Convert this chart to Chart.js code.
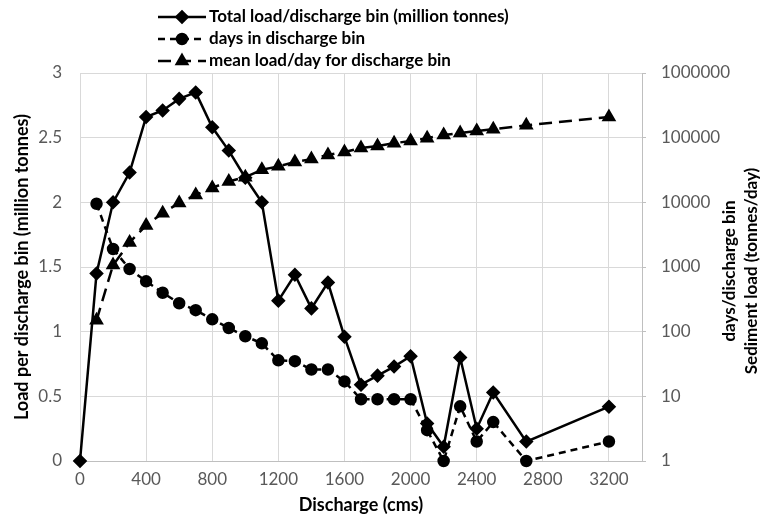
<!DOCTYPE html>
<html>
<head>
<meta charset="utf-8">
<script src="https://cdn.jsdelivr.net/npm/chart.js@4"></script>
<style>
  html, body { margin: 0; padding: 0; background: #fff; }
  #wrap { width: 762px; height: 527px; }
</style>
</head>
<body>
<div id="wrap"><canvas id="sedimentChart"></canvas></div>
<script>
// Discharge bins (cms) and per-bin values
const discharge = [0, 100, 200, 300, 400, 500, 600, 700, 800, 900, 1000, 1100, 1200, 1300,
  1400, 1500, 1600, 1700, 1800, 1900, 2000, 2100, 2200, 2300, 2400, 2500, 2700, 3200];
const totalLoad = [0, 1.45, 2.0, 2.23, 2.66, 2.71, 2.80, 2.85, 2.58, 2.40, 2.19, 2.0, 1.24, 1.44,
  1.18, 1.38, 0.96, 0.59, 0.66, 0.73, 0.81, 0.29, 0.11, 0.80, 0.25, 0.53, 0.15, 0.42];
const daysInBin = [null, 9500, 1900, 930, 600, 400, 275, 215, 155, 114, 85, 66, 36, 35,
  26, 26, 17, 9, 9, 9, 9, 3, 1, 7, 2, 4, 1, 2];
const meanLoadPerDay = [null, 150, 1070, 2400, 4400, 6800, 9800, 13000, 16700, 21000, 24500, 32000, 36000, 42000,
  46600, 54000, 60000, 69000, 74000, 82000, 89000, 98000, 110000, 118000, 127000, 135000, 155000, 208000];

const seriesLabels = [
  'Total load/discharge bin (million tonnes)',
  'days in discharge bin',
  'mean load/day for discharge bin'
];
const xTicks = [0, 400, 800, 1200, 1600, 2000, 2400, 2800, 3200];
const leftTicks = [0, 0.5, 1, 1.5, 2, 2.5, 3];
const rightTicks = [1, 10, 100, 1000, 10000, 100000, 1000000];

const FONT = 'Lato, "Open Sans", sans-serif';
const INK = '#000000';
const TICK_INK = '#595959';

function points(values) {
  return discharge.map((x, i) => ({ x: x, y: values[i] }));
}

function fixedTicks(values) {
  return s => { s.ticks = values.map(v => ({ value: v })); };
}

// legend stacked in three rows above the plot
const stackedLegend = {
  id: 'stackedLegend',
  afterDraw(chart) {
    const ctx = chart.ctx;
    chart.data.datasets.forEach((ds, i) => {
      const y = 17 + i * 22;
      ctx.save();
      ctx.strokeStyle = ds.borderColor;
      ctx.lineWidth = ds.borderWidth;
      ctx.setLineDash(ds.borderDash || []);
      ctx.beginPath();
      ctx.moveTo(158, y);
      ctx.lineTo(206, y);
      ctx.stroke();
      ctx.setLineDash([]);
      ctx.fillStyle = ds.pointBackgroundColor;
      ctx.strokeStyle = ds.pointBorderColor;
      Chart.helpers.drawPoint(ctx, { pointStyle: ds.pointStyle, radius: ds.pointRadius, borderWidth: 1 }, 182, y);
      ctx.fillStyle = INK;
      ctx.font = 'bold 17px ' + FONT;
      ctx.textAlign = 'left';
      ctx.textBaseline = 'middle';
      ctx.fillText(ds.label, 209, y);
      ctx.restore();
    });
  }
};

// two-line title for the log axis, reading bottom to top
const rightTitle = {
  id: 'rightTitle',
  afterDraw(chart) {
    const ctx = chart.ctx;
    const cy = 271;
    const lines = ['days/discharge bin', 'Sediment load (tonnes/day)'];
    ctx.save();
    ctx.fillStyle = INK;
    ctx.font = 'bold 17px ' + FONT;
    ctx.textAlign = 'center';
    ctx.textBaseline = 'middle';
    lines.forEach((t, i) => {
      ctx.save();
      ctx.translate(730 + i * 22, cy);
      ctx.rotate(-Math.PI / 2);
      ctx.fillText(t, 0, 0);
      ctx.restore();
    });
    ctx.restore();
  }
};

const ctx = document.getElementById('sedimentChart').getContext('2d');
new Chart(ctx, {
  type: 'line',
  data: {
    datasets: [
      {
        label: seriesLabels[0],
        data: points(totalLoad),
        yAxisID: 'y',
        borderColor: '#000',
        borderWidth: 2.5,
        pointStyle: 'rectRot',
        pointRadius: 5.5,
        pointBackgroundColor: '#000',
        pointBorderColor: '#000',
        clip: false,
        tension: 0
      },
      {
        label: seriesLabels[1],
        data: points(daysInBin),
        yAxisID: 'y2',
        borderColor: '#000',
        borderWidth: 2.5,
        borderDash: [7, 5],
        pointStyle: 'circle',
        pointRadius: 5,
        pointBackgroundColor: '#000',
        pointBorderColor: '#000',
        clip: false,
        tension: 0
      },
      {
        label: seriesLabels[2],
        data: points(meanLoadPerDay),
        yAxisID: 'y2',
        borderColor: '#000',
        borderWidth: 2.5,
        borderDash: [13, 7],
        pointStyle: 'triangle',
        pointRadius: 6,
        pointBackgroundColor: '#000',
        pointBorderColor: '#000',
        clip: false,
        tension: 0
      }
    ]
  },
  options: {
    responsive: true,
    maintainAspectRatio: false,
    animation: false,
    layout: { padding: { top: 73, left: 0, right: 0, bottom: 0 } },
    plugins: {
      legend: { display: false },
      tooltip: { enabled: false }
    },
    scales: {
      x: {
        type: 'linear',
        min: 0,
        max: 3400,
        afterFit: s => { s.height = 66; },
        afterBuildTicks: fixedTicks(xTicks),
        ticks: { color: TICK_INK, font: { family: FONT, size: 17 }, padding: 8, maxRotation: 0, callback: v => String(v) },
        grid: { color: '#d9d9d9', drawTicks: false },
        border: { color: '#bfbfbf' },
        title: { display: true, text: 'Discharge (cms)', color: INK, font: { family: FONT, size: 18, weight: 'bold' }, padding: { top: 0, bottom: 11 } }
      },
      y: {
        position: 'left',
        min: 0,
        max: 3,
        afterFit: s => { s.width = 80; },
        afterBuildTicks: fixedTicks(leftTicks),
        ticks: { color: TICK_INK, font: { family: FONT, size: 17 }, padding: 18, callback: v => String(v) },
        grid: { color: '#d9d9d9', drawTicks: false },
        border: { display: false },
        title: { display: true, text: 'Load per discharge bin (million tonnes)', color: INK, font: { family: FONT, size: 18, weight: 'bold' }, padding: { top: 11, bottom: 0 } }
      },
      y2: {
        type: 'logarithmic',
        position: 'right',
        min: 1,
        max: 1000000,
        afterFit: s => { s.width = 120; },
        afterBuildTicks: fixedTicks(rightTicks),
        ticks: { color: TICK_INK, font: { family: FONT, size: 17 }, padding: 15, callback: v => String(v) },
        grid: { drawOnChartArea: false, color: '#bfbfbf', tickLength: 4 },
        border: { color: '#bfbfbf' }
      }
    }
  },
  plugins: [stackedLegend, rightTitle]
});
</script>
</body>
</html>
